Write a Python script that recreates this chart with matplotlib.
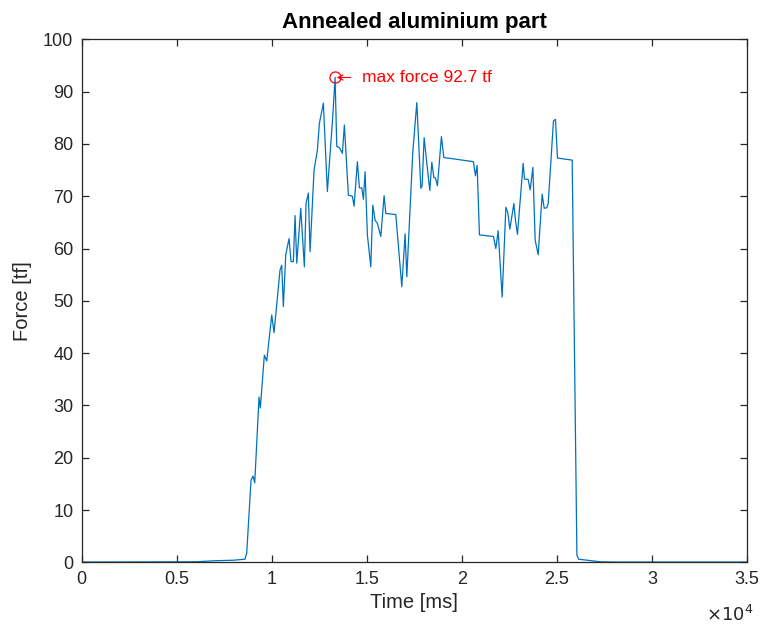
import numpy as np
import matplotlib.pyplot as plt
from matplotlib.ticker import FuncFormatter, MultipleLocator

plt.rcParams['font.family'] = ['Liberation Sans', 'DejaVu Sans']

# force record of the press stroke
time_ms = [0, 6000, 7000, 8000, 8595, 8684, 8911, 9016, 9105, 9332, 9400,
           9611, 9737, 10000, 10121, 10437, 10526, 10611, 10737, 10911,
           11016, 11137, 11226, 11316, 11526, 11716, 11805, 11926, 12016,
           12226, 12400, 12505, 12716, 12926, 13210, 13332, 13421, 13558,
           13716, 13821, 14032, 14242, 14332, 14505, 14611, 14737, 14821,
           14911, 15032, 15211, 15316, 15437, 15558, 15737, 15911, 16000,
           16526, 16842, 17016, 17105, 17421, 17632, 17842, 17911, 18016,
           18158, 18316, 18421, 18526, 18611, 18716, 18926, 19053, 20611,
           20716, 20805, 20926, 21663, 21789, 21911, 22121, 22316, 22421,
           22526, 22737, 22821, 22926, 23226, 23295, 23489, 23595, 23737,
           23858, 24016, 24226, 24332, 24474, 24542, 24821, 24926, 25032,
           25805, 26053, 26137, 27280, 28000, 35000]
force_tf = [0.05, 0.1, 0.3, 0.4, 0.6, 1.8, 15.7, 16.5, 15.2, 31.6, 29.5,
            39.6, 38.5, 47.3, 43.9, 55.9, 56.8, 48.9, 58.8, 61.9,
            57.5, 57.5, 66.3, 57.2, 67.7, 56.5, 68.6, 70.6, 59.4,
            75.0, 78.8, 83.9, 87.8, 70.9, 85.2, 92.7, 79.5, 79.3,
            78.2, 83.6, 70.2, 70.0, 68.1, 76.6, 71.6, 71.6, 69.4,
            74.7, 62.6, 56.5, 68.3, 65.4, 64.8, 62.3, 70.1, 66.7,
            66.5, 52.7, 62.8, 54.6, 78.5, 87.9, 71.5, 72.0, 81.2,
            76.3, 71.1, 76.5, 73.6, 73.5, 72.0, 81.4, 77.4, 76.6,
            73.9, 75.9, 62.6, 62.3, 60.0, 63.4, 50.7, 67.9, 66.8,
            63.7, 68.6, 65.4, 62.7, 76.3, 73.3, 73.2, 71.2, 75.5,
            61.6, 58.8, 70.4, 67.7, 67.8, 68.6, 84.4, 84.7, 77.3,
            76.9, 1.4, 0.6, 0.1, 0.05, 0.05]

t = np.array(time_ms)
f = np.array(force_tf)
i_max = np.argmax(f)

fig = plt.figure(figsize=(7.63, 6.28), dpi=100)
ax = fig.add_axes([0.107, 0.1046, 0.872, 0.8328])

ax.plot(t, f, color='#0072BD', lw=0.9)
ax.plot(t[i_max], f[i_max], 'o', mfc='none', mec='red', ms=8, mew=0.9)
ax.annotate('max force %.1f tf' % f[i_max], xy=(t[i_max], f[i_max]),
            xytext=(14737, f[i_max]), va='center', ha='left',
            color='red', fontsize=12.5,
            arrowprops=dict(arrowstyle='->', color='red', lw=0.8,
                            shrinkA=6, shrinkB=1.2, mutation_scale=9))

ax.set_xlim(0, 35000)
ax.set_ylim(0, 100)
ax.xaxis.set_major_locator(MultipleLocator(5000))
ax.yaxis.set_major_locator(MultipleLocator(10))
ax.xaxis.set_major_formatter(FuncFormatter(lambda v, p: '%g' % (v / 1e4)))

dark = '#262626'
for s in ax.spines.values():
    s.set_color(dark)
    s.set_linewidth(0.9)
ax.tick_params(direction='in', top=True, right=True, length=5, width=0.9,
               colors=dark, labelsize=13, pad=6)

ax.text(1.01, -0.082, r'$\times10^{4}$', transform=ax.transAxes,
        ha='right', va='top', fontsize=13, color=dark)

ax.set_xlabel('Time [ms]', fontsize=14.5, color=dark, labelpad=4)
ax.set_ylabel('Force [tf]', fontsize=14.5, color=dark, labelpad=8)
ax.set_title('Annealed aluminium part', fontsize=16, fontweight='bold',
             pad=8)

fig.savefig('out.png', dpi=100)
